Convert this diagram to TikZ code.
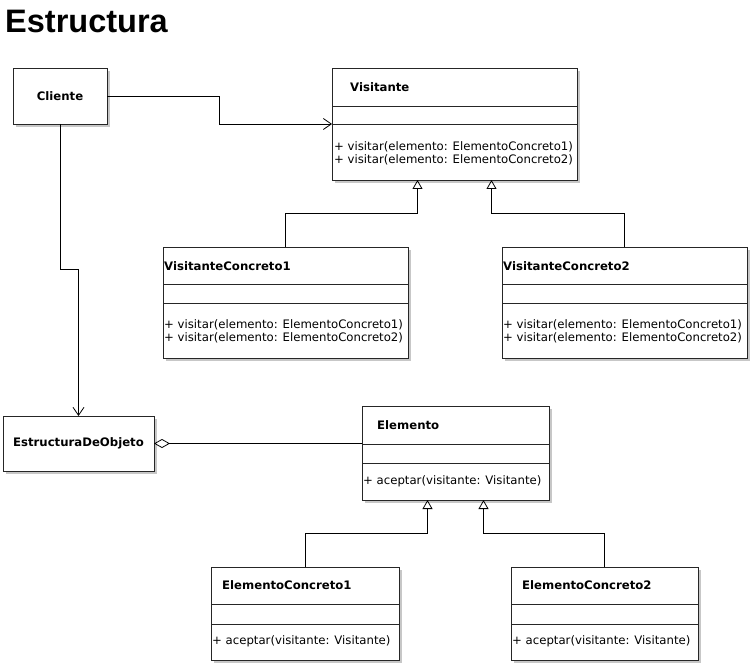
\documentclass[tikz,border=0pt]{standalone}
\usepackage{fontspec}
\setmainfont{DejaVu Sans}
\newfontfamily\headfont{Liberation Sans}
\usetikzlibrary{arrows.meta,shadows,calc}
\begin{document}
\begin{tikzpicture}[x=1pt,y=-1pt,
  classbox/.style={draw=black!85, line width=0.8pt, fill=white, anchor=north west,
    inner sep=0pt, outer sep=0pt,
    drop shadow={shadow xshift=3pt, shadow yshift=-3pt, fill=black!22, opacity=1}},
  classname/.style={font=\fontsize{11.7}{14}\selectfont\bfseries, inner sep=0pt, anchor=west},
  membertext/.style={font=\fontsize{11.7}{14}\selectfont, inner sep=0pt, anchor=west},
  divider/.style={draw=black!85, line width=0.8pt},
  conn/.style={draw=black, line width=0.8pt},
  usesarrow/.style={conn, -{Straight Barb[length=8pt,width=11pt,line width=0.8pt]}},
  inherits/.style={conn, -{Triangle[open,fill=white,length=9pt,width=10pt,line width=0.8pt]}},
  aggregates/.style={conn, {Diamond[open,fill=white,length=16pt,width=9pt,line width=0.8pt]}-}
]
\useasboundingbox (0,0) rectangle (752,668);

% heading
\node[anchor=base west, inner sep=0pt, font=\headfont\fontsize{32.5}{36}\selectfont\bfseries] (titulo) at (5,33) {Estructura};

% simple boxes
\node[classbox, minimum width=94pt, minimum height=56pt] (cliente) at (13,68) {};
\node[font=\fontsize{11.7}{14}\selectfont\bfseries, inner sep=0pt] (clienteT) at (cliente.center) {Cliente};

\node[classbox, minimum width=151pt, minimum height=55pt] (estructura) at (3,416) {};
\node[font=\fontsize{11.7}{14}\selectfont\bfseries, inner sep=0pt] (estructuraT) at (estructura.center) {EstructuraDeObjeto};

% Visitante
\node[classbox, minimum width=245pt, minimum height=112pt] (visitante) at (332,68) {};
\draw[divider] ($(visitante.north west)+(0,38)$) -- ($(visitante.north east)+(0,38)$);
\draw[divider] ($(visitante.north west)+(0,56)$) -- ($(visitante.north east)+(0,56)$);
\node[classname] (visitanteT) at (350,87) {Visitante};
\node[membertext] (visitanteM1) at (334,147) {+ visitar(elemento: ElementoConcreto1)};
\node[membertext] (visitanteM2) at (334,159.5) {+ visitar(elemento: ElementoConcreto2)};

% VisitanteConcreto1
\node[classbox, minimum width=245pt, minimum height=111pt] (vc1) at (163,247) {};
\draw[divider] ($(vc1.north west)+(0,37)$) -- ($(vc1.north east)+(0,37)$);
\draw[divider] ($(vc1.north west)+(0,56)$) -- ($(vc1.north east)+(0,56)$);
\node[classname] (vc1T) at (164,266) {VisitanteConcreto1};
\node[membertext] (vc1M1) at (164,325) {+ visitar(elemento: ElementoConcreto1)};
\node[membertext] (vc1M2) at (164,337.5) {+ visitar(elemento: ElementoConcreto2)};

% VisitanteConcreto2
\node[classbox, minimum width=245pt, minimum height=111pt] (vc2) at (502,247) {};
\draw[divider] ($(vc2.north west)+(0,37)$) -- ($(vc2.north east)+(0,37)$);
\draw[divider] ($(vc2.north west)+(0,56)$) -- ($(vc2.north east)+(0,56)$);
\node[classname] (vc2T) at (503,266) {VisitanteConcreto2};
\node[membertext] (vc2M1) at (503,325) {+ visitar(elemento: ElementoConcreto1)};
\node[membertext] (vc2M2) at (503,337.5) {+ visitar(elemento: ElementoConcreto2)};

% Elemento
\node[classbox, minimum width=187pt, minimum height=94pt] (elemento) at (362,406) {};
\draw[divider] ($(elemento.north west)+(0,38)$) -- ($(elemento.north east)+(0,38)$);
\draw[divider] ($(elemento.north west)+(0,57)$) -- ($(elemento.north east)+(0,57)$);
\node[classname] (elementoT) at (377,425) {Elemento};
\node[membertext] (elementoM) at (363,481) {+ aceptar(visitante: Visitante)};

% ElementoConcreto1
\node[classbox, minimum width=188pt, minimum height=93pt] (ec1) at (211,567) {};
\draw[divider] ($(ec1.north west)+(0,37)$) -- ($(ec1.north east)+(0,37)$);
\draw[divider] ($(ec1.north west)+(0,57)$) -- ($(ec1.north east)+(0,57)$);
\node[classname] (ec1T) at (222,585) {ElementoConcreto1};
\node[membertext] (ec1M) at (212,641.5) {+ aceptar(visitante: Visitante)};

% ElementoConcreto2
\node[classbox, minimum width=187pt, minimum height=93pt] (ec2) at (511,567) {};
\draw[divider] ($(ec2.north west)+(0,37)$) -- ($(ec2.north east)+(0,37)$);
\draw[divider] ($(ec2.north west)+(0,57)$) -- ($(ec2.north east)+(0,57)$);
\node[classname] (ec2T) at (522,585) {ElementoConcreto2};
\node[membertext] (ec2M) at (512,641.5) {+ aceptar(visitante: Visitante)};

% associations
\draw[usesarrow] (cliente.east) -| ($(cliente.east)!.5!(visitante.west)$) |- (visitante.west);
\draw[usesarrow] (cliente.south) -- ++(0,145) -| (estructura.north);
\draw[aggregates] (estructura.east) -- (estructura.east -| elemento.west);

% generalizations
\draw[inherits] (vc1.north) |- ($(visitante.south)+(-37,33)$) -- ($(visitante.south)+(-37,0)$);
\draw[inherits] (vc2.north) |- ($(visitante.south)+(37,33)$) -- ($(visitante.south)+(37,0)$);
\draw[inherits] (ec1.north) |- ($(elemento.south)+(-28,33)$) -- ($(elemento.south)+(-28,0)$);
\draw[inherits] (ec2.north) |- ($(elemento.south)+(28,33)$) -- ($(elemento.south)+(28,0)$);
\end{tikzpicture}
\end{document}
